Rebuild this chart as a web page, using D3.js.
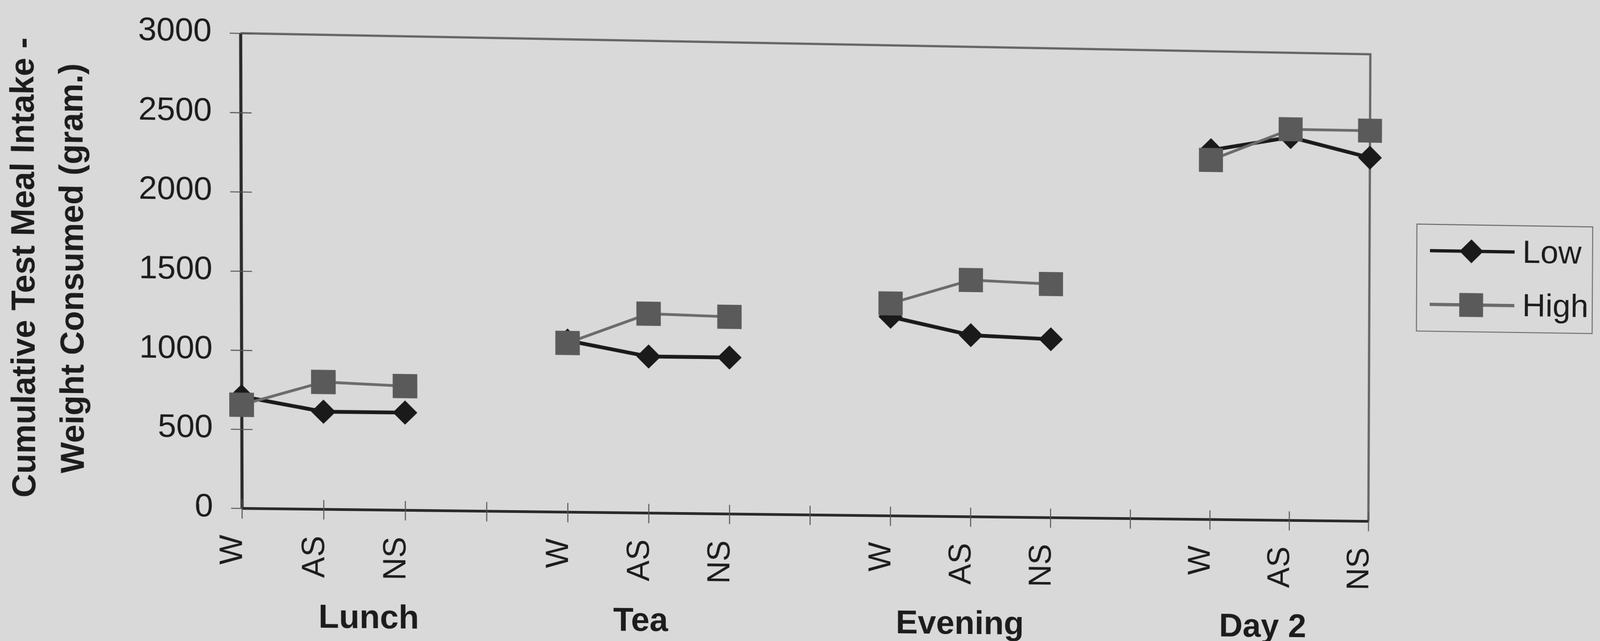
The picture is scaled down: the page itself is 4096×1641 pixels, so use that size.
<!DOCTYPE html>
<html>
<head>
<meta charset="utf-8">
<script src="https://cdn.jsdelivr.net/npm/d3@7"></script>
<style>
  html, body { margin: 0; padding: 0; background: #d9d9d9; overflow: hidden; width: 4096px; height: 1641px; }
  #chart { position: absolute; left: 0; top: 0; display: block; transform-origin: 0 0; }
</style>
</head>
<body>
<svg id="chart"></svg>
<script>
// ---------------- data ----------------
const categories = ["W", "AS", "NS", "", "W", "AS", "NS", "", "W", "AS", "NS", "", "W", "AS", "NS"];
const groups = ["Lunch", "Tea", "Evening", "Day 2"];
const lowValues  = [708, 618, 619, null, 1090, 996, 997, null, 1271, 1161, 1142, null, 2368, 2460, 2337];
const highValues = [655, 806, 787, null, 1075, 1268, 1256, null, 1356, 1513, 1495, null, 2305, 2510, 2510];
const yTicks = [0, 500, 1000, 1500, 2000, 2500, 3000];
const seriesNames = ["Low", "High"];
const yTitleLines = ["Cumulative Test Meal Intake -", "Weight Consumed (gram.)"];

// ---------------- layout (reference pixel units) ----------------
const REF_W = 6319, REF_H = 2531;
const OUT_W = 4096, OUT_H = 1641;
const plot = { left: 952, right: 5408, top: 131, bottom: 2007 };
const groupCenters = [1.55, 4.9, 8.87, 12.67];   // label centres, in category-index units
const FONT = "'Liberation Sans', Arial, Helvetica, sans-serif";
const textColor = "#1c1c1c";
const bg = "#d9d9d9";

const svg = d3.select("#chart")
  .attr("width", OUT_W).attr("height", OUT_H)
  .attr("viewBox", `0 0 ${REF_W} ${REF_H}`)
  .style("font-family", FONT);

svg.append("rect").attr("x", -200).attr("y", -200)
  .attr("width", REF_W + 400).attr("height", REF_H + 400).attr("fill", bg);

const x = d3.scaleLinear().domain([0, categories.length - 1]).range([plot.left, plot.right]);
const y = d3.scaleLinear().domain([0, 3000]).range([plot.bottom, plot.top]);

// top & right border of the plot area
svg.append("path")
  .attr("d", `M${x.range()[0]},${y.range()[1]}H${x.range()[1]}V${y.range()[0]}`)
  .attr("fill", "none").attr("stroke", "#666").attr("stroke-width", 9);

// y axis
const yAxis = svg.append("g").attr("transform", `translate(${plot.left},0)`)
  .call(d3.axisLeft(y).tickValues(yTicks).tickFormat(d3.format("d")).tickSize(42).tickSizeOuter(0));
yAxis.attr("font-family", FONT).attr("font-size", 128);
yAxis.select(".domain").attr("stroke", "#2a2a2a").attr("stroke-width", 12);
yAxis.selectAll(".tick line").attr("x1", 42).attr("x2", -42).attr("stroke", "#555").attr("stroke-width", 4);
yAxis.selectAll(".tick text").attr("x", -112).attr("dy", "0.26em").attr("fill", textColor);

// x axis
const xAxis = svg.append("g").attr("transform", `translate(0,${plot.bottom})`)
  .call(d3.axisBottom(x).tickValues(d3.range(categories.length))
    .tickFormat(i => categories[i]).tickSize(41).tickSizeOuter(0));
xAxis.attr("font-family", FONT).attr("font-size", 125);
xAxis.select(".domain").attr("stroke", "#2a2a2a").attr("stroke-width", 11);
xAxis.selectAll(".tick line").attr("y1", -36).attr("y2", 41).attr("stroke", "#555").attr("stroke-width", 4);
xAxis.selectAll(".tick text")
  .attr("transform", "rotate(-90)")
  .attr("x", -106).attr("y", 0).attr("dy", 0)
  .attr("text-anchor", "end").attr("fill", textColor);

// group labels
svg.append("g").selectAll("text").data(groups).join("text")
  .attr("x", (d, i) => x(groupCenters[i]))
  .attr("y", 2477)
  .attr("text-anchor", "middle")
  .attr("font-size", 131).attr("font-weight", "bold").attr("fill", textColor)
  .text(d => d);

// y title
yTitleLines.forEach((t, i) => {
  svg.append("text")
    .attr("transform", `translate(${[151, 340][i]},${(plot.top + plot.bottom) / 2}) rotate(-90)`)
    .attr("text-anchor", "middle")
    .attr("font-size", 130).attr("font-weight", "bold").attr("fill", textColor)
    .text(t);
});

// series
const series = [
  { name: seriesNames[0], values: lowValues,  line: "#1a1a1a", lw: 15, fill: "#1a1a1a",
    symbol: d3.symbol(d3.symbolSquare, 4608), rot: 45 },
  { name: seriesNames[1], values: highValues, line: "#6b6b6b", lw: 11, fill: "#5a5a5a",
    symbol: d3.symbol(d3.symbolSquare, 9216), rot: 0 }
];

const line = d3.line().defined(d => d.v != null).x(d => x(d.i)).y(d => y(d.v));

series.forEach(s => {
  const pts = s.values.map((v, i) => ({ i, v }));
  const g = svg.append("g");
  g.append("path").datum(pts)
    .attr("d", line).attr("fill", "none")
    .attr("stroke", s.line).attr("stroke-width", s.lw).attr("stroke-linejoin", "round");
  g.selectAll("path.m").data(pts.filter(d => d.v != null)).join("path")
    .attr("class", "m")
    .attr("d", s.symbol)
    .attr("transform", d => `translate(${x(d.i)},${y(d.v)}) rotate(${s.rot})`)
    .attr("fill", s.fill);
});

// legend
const legend = svg.append("g");
legend.append("rect").attr("x", 5598).attr("y", 809).attr("width", 709).attr("height", 430)
  .attr("fill", "none").attr("stroke", "#6e6e6e").attr("stroke-width", 4);
const legY = [915, 1131];
series.forEach((s, k) => {
  legend.append("line").attr("x1", 5651).attr("x2", 5992).attr("y1", legY[k]).attr("y2", legY[k])
    .attr("stroke", s.line).attr("stroke-width", 13);
  legend.append("path").attr("d", s.symbol)
    .attr("transform", `translate(5818,${legY[k]}) rotate(${s.rot})`).attr("fill", s.fill);
  legend.append("text").attr("x", 6024).attr("y", legY[k] + 43)
    .attr("font-size", 130).attr("fill", textColor).text(s.name);
});

// ---- the reference is a photograph: reproduce its slight keystone ----
function homography(src, dst) {
  const A = [], b = [];
  for (let i = 0; i < 4; i++) {
    const [sx, sy] = src[i], [X, Y] = dst[i];
    A.push([sx, sy, 1, 0, 0, 0, -sx * X, -sy * X]); b.push(X);
    A.push([0, 0, 0, sx, sy, 1, -sx * Y, -sy * Y]); b.push(Y);
  }
  const n = 8;
  for (let c = 0; c < n; c++) {
    let p = c;
    for (let r = c + 1; r < n; r++) if (Math.abs(A[r][c]) > Math.abs(A[p][c])) p = r;
    [A[c], A[p]] = [A[p], A[c]]; [b[c], b[p]] = [b[p], b[c]];
    for (let r = 0; r < n; r++) {
      if (r === c) continue;
      const f = A[r][c] / A[c][c];
      for (let k = c; k < n; k++) A[r][k] -= f * A[c][k];
      b[r] -= f * b[c];
    }
  }
  return b.map((v, i) => v / A[i][i]);
}
const srcCorners = [[plot.left, plot.top], [plot.right, plot.top], [plot.left, plot.bottom], [plot.right, plot.bottom]];
const dstCorners = [[950, 131], [5412, 214], [955.5, 2007], [5404, 2058]];
const [ha, hb, hc, hd, he, hf, hg, hh] = homography(srcCorners, dstCorners);
const sc = OUT_W / REF_W;
document.getElementById("chart").style.transform =
  `matrix3d(${ha},${hd},0,${hg / sc},${hb},${he},0,${hh / sc},0,0,1,0,${hc * sc},${hf * sc},0,1)`;
</script>
</body>
</html>
